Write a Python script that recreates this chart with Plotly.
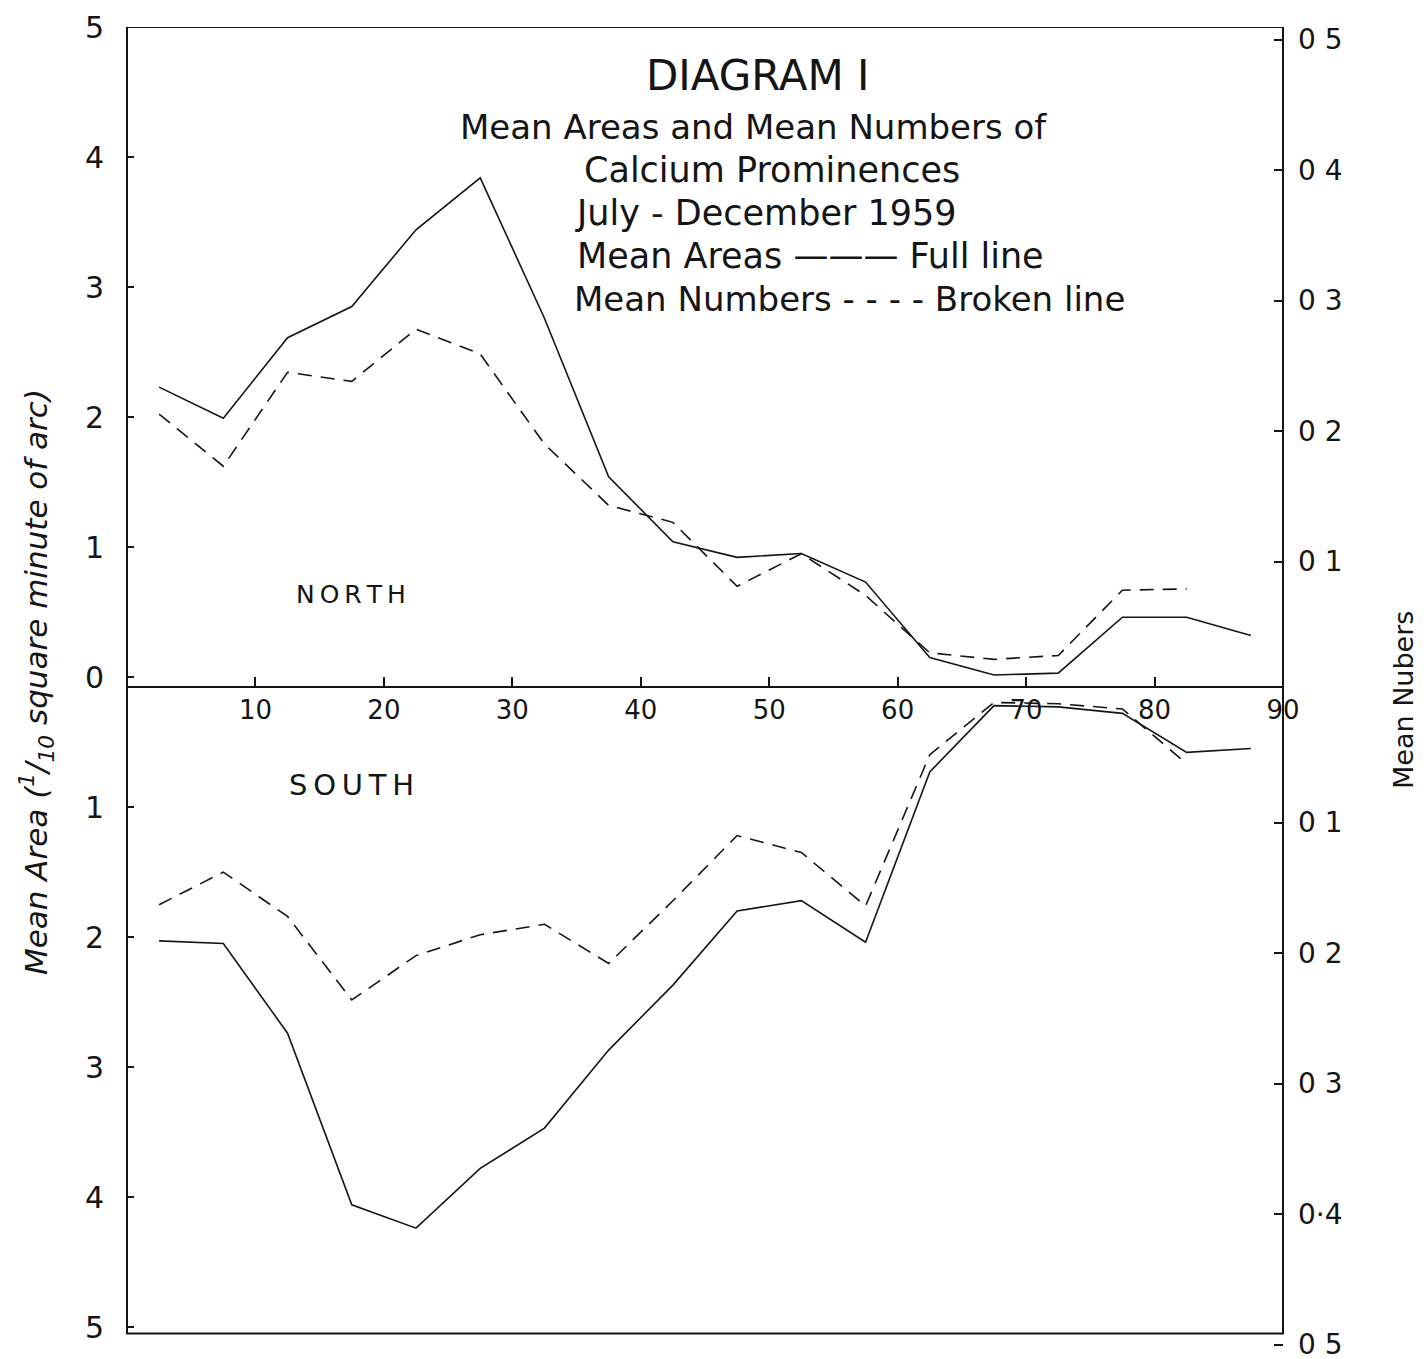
import plotly.graph_objects as go

# Latitude bins (degrees), centred on 5-degree intervals
lat = [2.5, 7.5, 12.5, 17.5, 22.5, 27.5, 32.5, 37.5, 42.5, 47.5, 52.5, 57.5,
       62.5, 67.5, 72.5, 77.5, 82.5, 87.5]

# NORTH - mean areas (1/10 square minute of arc), full line
north_area = [2.23, 1.99, 2.61, 2.85, 3.44, 3.84, 2.76, 1.54, 1.04, 0.92, 0.95, 0.73,
              0.15, 0.015, 0.03, 0.46, 0.46, 0.32]
# NORTH - mean numbers, broken line
north_num = [0.213, 0.173, 0.245, 0.238, 0.278, 0.259, 0.190, 0.143, 0.130, 0.081,
             0.106, 0.074, 0.030, 0.025, 0.028, 0.078, 0.079]
# SOUTH - mean areas, full line
south_area = [2.03, 2.05, 2.74, 4.06, 4.24, 3.78, 3.47, 2.87, 2.37, 1.80, 1.72, 2.04,
              0.73, 0.22, 0.23, 0.28, 0.58, 0.55]
# SOUTH - mean numbers, broken line
south_num = [0.163, 0.138, 0.172, 0.236, 0.202, 0.186, 0.178, 0.208, 0.160, 0.110,
             0.123, 0.164, 0.048, 0.008, 0.009, 0.013, 0.055]

x_ticks = [10, 20, 30, 40, 50, 60, 70, 80, 90]
left_tickvals = [5, 4, 3, 2, 1, 0, -1, -2, -3, -4, -5]
left_ticktext = ["5", "4", "3", "2", "1", "0", "1", "2", "3", "4", "5"]
right_tickvals = [0.5, 0.4, 0.3, 0.2, 0.1, -0.1, -0.2, -0.3, -0.4, -0.5]
right_ticktext = ["0 5", "0 4", "0 3", "0 2", "0 1", "0 1", "0 2", "0 3", "0·4", "0 5"]

FONT = "DejaVu Sans"
BLACK = "#151515"

fig = go.Figure()

line_solid = dict(color=BLACK, width=1.6)
line_dash = dict(color=BLACK, width=1.6, dash="14px,9px")

fig.add_trace(go.Scatter(x=lat, y=north_area, mode="lines", line=line_solid,
                         showlegend=False, yaxis="y"))
fig.add_trace(go.Scatter(x=lat, y=[-v for v in south_area], mode="lines", line=line_solid,
                         showlegend=False, yaxis="y"))
fig.add_trace(go.Scatter(x=lat[:len(north_num)], y=north_num, mode="lines", line=line_dash,
                         showlegend=False, yaxis="y2"))
fig.add_trace(go.Scatter(x=lat[:len(south_num)], y=[-v for v in south_num], mode="lines",
                         line=line_dash, showlegend=False, yaxis="y2"))

# the page body has an 8px margin: the figure starts at (8, 8) on screen
OFF = 8
W, H = 1427, 1359
ml, mt = 127 - OFF, 27 - OFF
mr = W - (1283 - OFF)
mb = H - (1347 - OFF)
pw = W - ml - mr
ph = H - mt - mb


def px(xs):
    return (xs - OFF - ml) / pw


def py(ys):
    return (H - mb - (ys - OFF)) / ph


fig.update_layout(
    width=W, height=H,
    margin=dict(l=ml, r=mr, t=mt, b=mb, autoexpand=False),
    paper_bgcolor="white", plot_bgcolor="white",
    font=dict(family=FONT, color=BLACK),
    xaxis=dict(range=[0, 90], tickvals=x_ticks, ticktext=[str(t) for t in x_ticks],
               showgrid=False, zeroline=False, showline=True, linecolor=BLACK, linewidth=2,
               anchor="free", position=0.5, side="bottom", automargin=False,
               ticks="inside", ticklen=9, tickwidth=1.5, tickcolor=BLACK,
               tickfont=dict(size=26, family=FONT), ticklabelstandoff=0),
    yaxis=dict(range=[5 - ph / 130.0, 5], tickvals=left_tickvals, ticktext=left_ticktext,
               showgrid=False, zeroline=False, showline=False, automargin=False,
               ticks="inside", ticklen=7, tickwidth=1.5, tickcolor=BLACK,
               tickfont=dict(size=30, family=FONT), ticklabelstandoff=22),
    yaxis2=dict(range=[(692 - 27) / 1305.0 - ph / 1305.0, (692 - 27) / 1305.0],
                overlaying="y", side="right", automargin=False,
                tickvals=right_tickvals, ticktext=right_ticktext,
                showgrid=False, zeroline=False, showline=False,
                ticks="inside", ticklen=9, tickwidth=1.5, tickcolor=BLACK,
                tickfont=dict(size=28, family=FONT), ticklabelstandoff=14),
)

# frame of the diagram
fig.add_shape(type="rect", xref="paper", yref="y", x0=0, x1=1, y0=-5.05, y1=5.0,
              line=dict(color=BLACK, width=2))

ann = []


def add(text, xs, ys, size, xanchor="center", angle=0, italic=False):
    t = f"<i>{text}</i>" if italic else text
    ann.append(dict(text=t, x=px(xs), y=py(ys), xref="paper", yref="paper",
                    showarrow=False, xanchor=xanchor, yanchor="middle",
                    textangle=angle, font=dict(size=size, family=FONT, color=BLACK)))


TS = "\u2009"
add("DIAGRAM I", 757, 75, 42)
add("Mean Areas and Mean Numbers of", 458, 127, 34, xanchor="left")
add("Calcium Prominences", 582, 170, 35, xanchor="left")
add("July - December 1959", 573, 213, 35, xanchor="left")
add("Mean Areas ——— Full line", 575, 256, 35, xanchor="left")
add("Mean Numbers - - - - Broken line", 572, 299, 34, xanchor="left")
add(TS.join("NORTH"), 351, 594, 25)
add(TS.join("SOUTH"), 351, 785, 29)
add("Mean Area (<sup>1</sup>/<sub>10</sub> square minute of arc)", 36, 682, 31, angle=-90,
    italic=True)
add("Mean Nubers", 1404, 700, 27, angle=-90)

fig.update_layout(annotations=ann)

fig.write_html("out.html")
